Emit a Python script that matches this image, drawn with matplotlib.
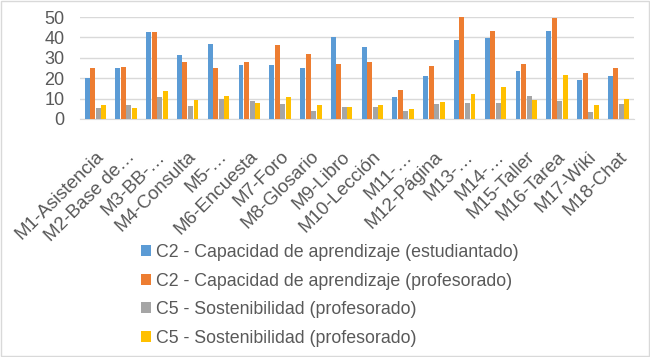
import matplotlib
matplotlib.use("Agg")

import numpy as np
import matplotlib.pyplot as plt
from matplotlib.patches import Rectangle

# categories and series values
categories = ["M1-Asistencia", "M2-Base de…", "M3-BB-…", "M4-Consulta", "M5-…",
              "M6-Encuesta", "M7-Foro", "M8-Glosario", "M9-Libro", "M10-Lección",
              "M11-…", "M12-Página", "M13-…", "M14-…", "M15-Taller",
              "M16-Tarea", "M17-Wiki", "M18-Chat"]
c2_estudiantado = [20, 25.2, 42.6, 31.6, 37, 26.4, 26.4, 24.9, 40, 35.1,
                   10.8, 21.3, 38.9, 39.5, 23.4, 43.3, 19, 21.3]
c2_profesorado = [24.8, 25.6, 42.6, 28, 24.8, 28, 36.2, 31.8, 27.2, 28,
                  14.1, 26.2, 50, 43.3, 27, 49.5, 22.6, 24.8]
c5_profesorado_a = [5.6, 6.7, 10.8, 6.4, 10, 9, 7.5, 3.9, 6.1, 6.1,
                    3.9, 7.2, 7.9, 7.9, 11.1, 8.7, 3.3, 7.5]
c5_profesorado_b = [6.9, 5.6, 13.9, 9.5, 11.5, 7.9, 10.8, 6.9, 6.1, 6.9,
                    4.8, 8.4, 12.3, 15.6, 9.5, 21.6, 6.9, 10]
series_labels = ["C2 - Capacidad de aprendizaje (estudiantado)",
                 "C2 - Capacidad de aprendizaje (profesorado)",
                 "C5 - Sostenibilidad (profesorado)",
                 "C5 - Sostenibilidad (profesorado)"]
colors = ["#5B9BD5", "#ED7D31", "#A5A5A5", "#FFC000"]

plt.rcParams["font.family"] = ["Liberation Sans", "DejaVu Sans"]
text_color = "#595959"

fig = plt.figure(figsize=(6.5, 3.57), dpi=100)
ax = fig.add_axes([80 / 650, 1 - 119 / 357, 554 / 650, 102 / 357])

x = np.arange(len(categories))
step = 0.18
width = 0.16
all_series = [c2_estudiantado, c2_profesorado, c5_profesorado_a, c5_profesorado_b]
for i, (vals, lab, col) in enumerate(zip(all_series, series_labels, colors)):
    ax.bar(x + (i - 1.5) * step, vals, width, color=col, label=lab, zorder=3)

ax.set_xlim(-0.5, len(categories) - 0.5)
ax.set_ylim(0, 50)
ax.set_yticks(range(0, 51, 10))
ax.grid(axis="y", color="#D9D9D9", linewidth=1, zorder=0)
for s in ["top", "right", "left"]:
    ax.spines[s].set_visible(False)
ax.spines["bottom"].set_color("#D9D9D9")
ax.tick_params(axis="both", length=0, colors=text_color)
ax.tick_params(axis="y", labelsize=13, pad=11)
ax.set_xticks(x)
ax.set_xticklabels(categories, rotation=45, ha="right", rotation_mode="anchor",
                   fontsize=13.5, color=text_color)
ax.tick_params(axis="x", pad=21)

leg = fig.legend(loc="upper left", bbox_to_anchor=(125 / 650, 1 - 228 / 357),
                 frameon=False, fontsize=12.8, labelcolor=text_color,
                 handlelength=0.55, handleheight=0.55, handletextpad=0.3,
                 labelspacing=0.65)

# chart border
fig.patches.append(Rectangle((0.002, 0.003), 0.996, 0.994, transform=fig.transFigure,
                             fill=False, edgecolor="#D9D9D9", linewidth=1))

fig.savefig("out.png", dpi=100)
